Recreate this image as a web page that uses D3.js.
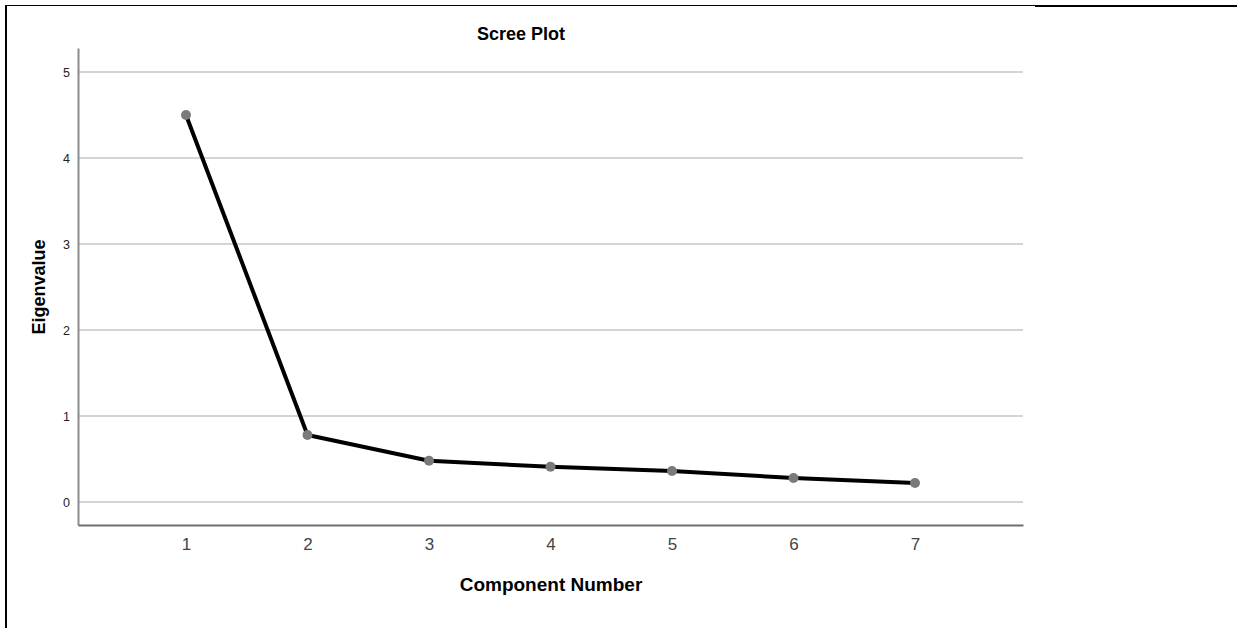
<!DOCTYPE html>
<html>
<head>
<meta charset="utf-8">
<script src="https://cdn.jsdelivr.net/npm/d3@7"></script>
<style>
  body { margin: 0; background: #fff; }
  text { font-family: "Liberation Sans", Arial, sans-serif; }
</style>
</head>
<body>
<script>
// Data
var components = [1, 2, 3, 4, 5, 6, 7];
var eigenvalues = [4.50, 0.78, 0.48, 0.41, 0.36, 0.28, 0.22];
var yTicks = [0, 1, 2, 3, 4, 5];

var W = 1237, H = 628;
var plot = {left: 78, right: 1023, top: 48, bottom: 525};

var svg = d3.select("body").append("svg")
    .attr("width", W)
    .attr("height", H);

// outer frame (top and left edges)
svg.append("line").attr("x1", 5).attr("x2", 1035).attr("y1", 5.5).attr("y2", 5.5)
    .style("stroke", "#000").style("stroke-width", 1);
svg.append("line").attr("x1", 1035).attr("x2", 1237).attr("y1", 6).attr("y2", 6)
    .style("stroke", "#000").style("stroke-width", 2);
svg.append("line").attr("x1", 6).attr("x2", 6).attr("y1", 5).attr("y2", H)
    .style("stroke", "#000").style("stroke-width", 2);

var x = d3.scaleLinear()
    .domain([1 - 108 / 121.5, 7 + 108 / 121.5])
    .range([plot.left, plot.right]);

var y = d3.scaleLinear()
    .domain([-(525 - 502) / 86, 5 + (72 - 48) / 86])
    .range([plot.bottom, plot.top]);

// gridlines
svg.append("g").selectAll("line")
    .data(yTicks)
    .enter().append("line")
    .attr("x1", plot.left).attr("x2", plot.right)
    .attr("y1", function(d) { return y(d); })
    .attr("y2", function(d) { return y(d); })
    .style("stroke", "#d4d4d4")
    .style("stroke-width", 2);

// y axis
var yAxis = svg.append("g")
    .attr("transform", "translate(" + plot.left + ",0)")
    .call(d3.axisLeft(y).tickValues(yTicks).tickSize(0).tickPadding(8).tickFormat(d3.format("d")));
yAxis.select(".domain").style("stroke", "#8c8c8c").style("stroke-width", 2);
yAxis.selectAll("text").style("font-size", "12.5px").style("fill", "#222");

// x axis
var xAxis = svg.append("g")
    .attr("transform", "translate(0," + plot.bottom + ")")
    .call(d3.axisBottom(x).tickValues(components).tickSize(0).tickPadding(13).tickFormat(d3.format("d")));
xAxis.select(".domain").style("stroke", "#6e6e6e").style("stroke-width", 2);
xAxis.selectAll("text").style("font-size", "17px").style("fill", "#444");

// line
var line = d3.line()
    .x(function(d, i) { return x(components[i]); })
    .y(function(d) { return y(d); });

svg.append("path")
    .datum(eigenvalues)
    .attr("d", line)
    .style("fill", "none")
    .style("stroke", "#000")
    .style("stroke-width", 4)
    .style("stroke-linejoin", "round");

svg.selectAll("circle")
    .data(eigenvalues)
    .enter().append("circle")
    .attr("cx", function(d, i) { return x(components[i]); })
    .attr("cy", function(d) { return y(d); })
    .attr("r", 5)
    .style("fill", "#7a7a7a");

// titles
svg.append("text")
    .attr("x", 521).attr("y", 40)
    .attr("text-anchor", "middle")
    .style("font-size", "18px").style("font-weight", "bold")
    .text("Scree Plot");

svg.append("text")
    .attr("x", 551).attr("y", 591)
    .attr("text-anchor", "middle")
    .style("font-size", "19px").style("font-weight", "bold")
    .text("Component Number");

svg.append("text")
    .attr("transform", "translate(45," + 287 + ") rotate(-90)")
    .attr("text-anchor", "middle")
    .style("font-size", "18px").style("font-weight", "bold")
    .text("Eigenvalue");
</script>
</body>
</html>
